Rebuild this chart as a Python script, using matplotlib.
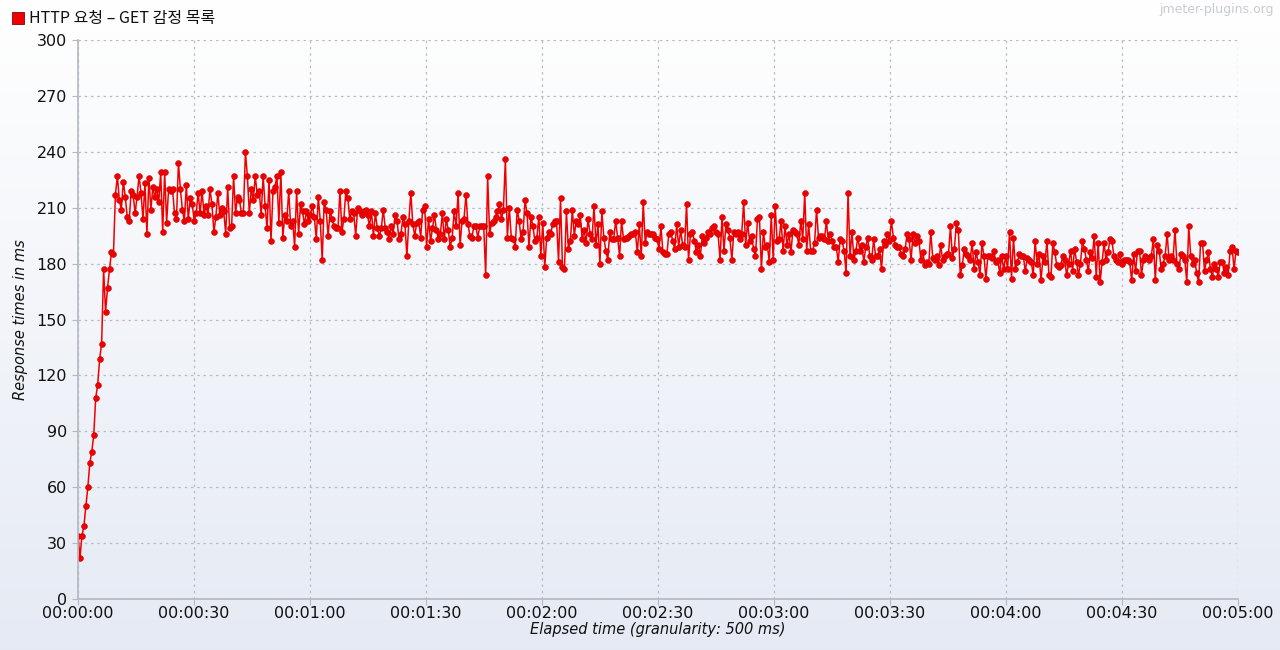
import numpy as np
import matplotlib
matplotlib.use("Agg")
import matplotlib.pyplot as plt
from matplotlib.ticker import FuncFormatter, MultipleLocator

plt.rcParams['font.family'] = ['DejaVu Sans', 'Noto Sans CJK KR']

series_name = "HTTP 요청 – GET 감정 목록"
watermark = "jmeter-plugins.org"
duration_s = 300

# response times (ms) in order, 500 ms buckets
ramp = [34, 22, 34, 39, 50, 60, 73, 79, 88, 108, 115, 129, 137, 177, 154, 167, 177, 186, 185]
seg1 = [217, 227, 214, 209, 224, 216, 205, 203, 219, 217, 207, 216, 227, 218, 204, 223, 196, 226, 209, 221,
        216, 220, 213, 229, 197, 229, 202, 220, 219, 220, 207, 204, 234, 220, 209, 203, 222, 204, 215, 212,
        203, 207, 218, 207, 219, 206, 211, 206, 220, 212, 197, 205, 218, 206, 210, 208, 196, 221, 199, 200,
        227, 207, 216, 214, 207, 207, 240, 227, 207, 220, 214, 227, 217, 219, 206, 227, 211, 199, 225, 192,
        219, 221, 227, 202, 229, 194, 206, 203, 219, 200, 203, 189, 219, 196, 212, 208, 201]
seg2 = [208, 203, 206, 211, 205, 193, 216, 203, 182, 213, 209, 195, 208, 204, 200, 199, 199, 219, 197, 204,
        219, 215, 204, 208, 207, 195, 210, 208, 206, 208, 209, 206, 200, 208, 195, 207, 199, 195, 199, 209,
        199, 197, 193, 200, 196, 206, 203, 193, 196, 205, 201, 184, 203, 218, 201, 195, 202, 203, 194, 209,
        211, 189, 204, 192, 199, 206, 198, 193, 196, 207, 193, 204, 198, 189, 194, 208, 200, 218, 190, 203,
        204, 217, 201, 195, 194, 200, 200, 194, 200, 200, 200, 174, 227, 196, 202, 203, 205, 208, 212, 204,
        209, 236, 194, 210, 194, 193, 189, 209, 203, 193, 197, 214, 207, 189, 205, 200, 192, 194, 205, 184,
        202, 178, 194, 197]
seg3 = [196, 201, 203, 203, 181, 215, 178, 177, 208, 188, 192, 209, 195, 203, 201, 206, 193, 198, 191, 204,
        196, 193, 211, 190, 201, 180, 208, 194, 187, 182, 197, 193, 193, 203, 194, 184, 203, 193, 194, 194,
        195, 196, 196, 197, 186, 201, 184, 213, 191, 197, 196, 196, 196, 194, 193, 188, 200, 186, 185, 185,
        196, 197, 192, 188, 201, 189, 198, 190, 189, 212, 182, 196, 197, 192, 186, 190, 184, 195, 191, 194,
        197, 196, 199, 200, 197, 196, 182, 205, 187, 201, 198, 194, 182, 197, 196, 197, 193, 196, 213, 190,
        202, 192, 195, 188, 184, 204, 205, 177, 197, 189, 190, 181, 206, 182, 211]
seg4 = [192, 193, 203, 187, 200, 190, 196, 186, 198, 197, 196, 190, 203, 193, 218, 187, 201, 187, 187, 191,
        209, 194, 195, 195, 193, 203, 192, 196, 192, 189, 189, 181, 193, 192, 187, 175, 218, 184, 197, 182,
        187, 194, 187, 190, 181, 189, 194, 184, 182, 193, 184, 184, 188, 177, 192, 190, 196, 192, 203, 194,
        190, 189, 189, 185, 184, 188, 196, 193, 182, 196, 191, 195, 192, 182, 186, 179, 181, 180, 197, 183,
        182, 184, 179, 190, 182, 184, 185, 185, 200, 183, 188, 202, 198, 174, 179, 188, 185, 184, 182, 191,
        177, 186, 181, 174, 191, 184, 172, 184, 184, 183, 187, 181, 182, 175, 184, 177]
seg5 = [184, 177, 197, 172, 194, 177, 181, 185, 184, 184, 176, 183, 182, 181, 174, 192, 180, 185, 171, 184,
        181, 192, 174, 173, 191, 186, 179, 178, 179, 184, 182, 174, 180, 187, 176, 188, 181, 174, 180, 192,
        188, 182, 176, 186, 183, 195, 173, 191, 170, 181, 191, 182, 186, 193, 192, 184, 182, 181, 185, 180,
        182, 182, 182, 181, 171, 185, 176, 187, 187, 174, 182, 184, 183, 182, 184, 193, 171, 190, 187, 177,
        180, 184, 196, 182, 184, 182, 198, 180, 177, 185, 184, 182, 170, 200, 184, 180, 182, 175, 170, 191,
        191, 176, 182, 186, 177, 173, 180, 177, 173, 181, 181, 175, 178, 174, 187, 189, 177, 187, 186]

resp = np.array(ramp + seg1 + seg2 + seg3 + seg4 + seg5, dtype=float)
elapsed = np.linspace(0, duration_s, len(resp))


def hms(x, pos):
    s = int(round(x))
    return "%02d:%02d:%02d" % (s // 3600, (s % 3600) // 60, s % 60)


fig = plt.figure(figsize=(12.8, 6.5), dpi=100)

# gradient background over the whole figure
bg = fig.add_axes([0, 0, 1, 1], zorder=-10)
grad = np.linspace(0, 1, 256).reshape(-1, 1)
top = np.array([1.0, 1.0, 1.0])
bot = np.array([0.898, 0.918, 0.957])
img = top + (bot - top) * grad[:, :, None]
bg.imshow(img, aspect='auto', extent=[0, 1, 0, 1])
bg.axis('off')

ax = fig.add_axes([78 / 1280, 51 / 650, 1160 / 1280, 559 / 650])
ax.patch.set_alpha(0)

ax.plot(elapsed, resp, color='#f00000', linewidth=1.1, marker='o', markersize=4.2,
        markerfacecolor='#ee0000', markeredgecolor='#d00000', markeredgewidth=0.4)

ax.set_xlim(0, duration_s)
ax.set_ylim(0, 300)
ax.xaxis.set_major_locator(MultipleLocator(30))
ax.xaxis.set_major_formatter(FuncFormatter(hms))
ax.yaxis.set_major_locator(MultipleLocator(30))

ax.grid(True, color='#b8bcc4', linestyle=(0, (2, 3)), linewidth=0.9)
for s in ['top', 'right']:
    ax.spines[s].set_visible(False)
for s in ['left', 'bottom']:
    ax.spines[s].set_color('#b4b8c2')
    ax.spines[s].set_linewidth(1.2)

ax.tick_params(axis='both', colors='#b4b8c2', labelcolor='#111111', labelsize=11.5, length=4, width=0.8)
ax.tick_params(axis='x', pad=1)
ax.tick_params(axis='y', pad=4)

ax.set_xlabel("Elapsed time (granularity: 500 ms)", fontstyle='italic', fontsize=10.5,
              color='#111111', labelpad=1)
ax.set_ylabel("Response times in ms", fontstyle='italic', fontsize=10.5, color='#111111', labelpad=6)

# legend box + label at the top-left
fig.patches.append(plt.Rectangle((12 / 1280, 1 - 24 / 650), 12 / 1280, 12 / 650,
                                 transform=fig.transFigure, facecolor='#f00000',
                                 edgecolor='#8a0000', linewidth=0.6))
fig.text(29 / 1280, 1 - 18 / 650, series_name, fontsize=11.5, va='center', ha='left',
         color='#111111', family=['Noto Sans CJK KR', 'DejaVu Sans'])
fig.text(1 - 6 / 1280, 1 - 10 / 650, watermark, fontsize=9, va='center', ha='right',
         color='#c8ccd4')

fig.savefig('out.png', dpi=100)
